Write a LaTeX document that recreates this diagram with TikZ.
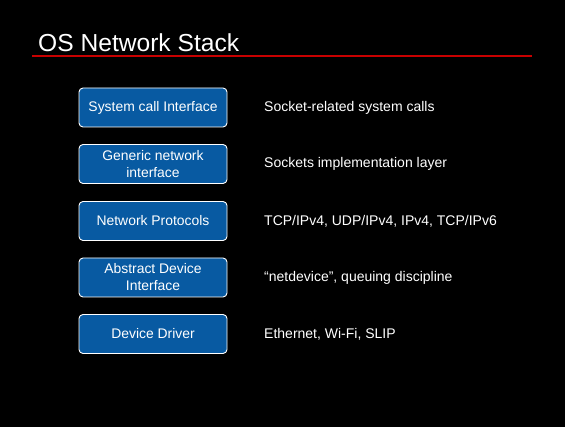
\documentclass[tikz,border=0pt]{standalone}
\usepackage{fontspec}
\setmainfont{Liberation Sans}
\definecolor{layerblue}{RGB}{8,90,162}
\definecolor{rulered}{RGB}{200,0,0}
\begin{document}
\begin{tikzpicture}[x=1pt,y=-1pt,
  layer/.style={draw=white, line width=0.9pt, fill=layerblue, rounded corners=4pt,
    minimum width=148pt, minimum height=39pt, inner sep=0pt, text=white,
    align=center, font=\fontsize{13.9}{17}\selectfont},
  note/.style={anchor=west, text=white, inner sep=0pt, font=\fontsize{14}{17}\selectfont}]
  % slide background
  \fill[black] (0,0) rectangle (565,427);
  \useasboundingbox (0,0) rectangle (565,427);
  % title and rule
  \node[anchor=base west, inner sep=0pt, text=white, font=\fontsize{24.6}{28}\selectfont] (title) at (38,52) {OS Network Stack};
  \coordinate (ruleL) at (32,56);
  \coordinate (ruleR) at (532,56);
  \draw[rulered, line width=1.6pt] (ruleL) -- (ruleR);
  % stack layers
  \node[layer] (sci) at (153,107.5) {System call Interface};
  \node[layer] (gni) at (153,164) {Generic network\\interface};
  \node[layer] (np)  at (153,221) {Network Protocols};
  \node[layer] (adi) at (153,277.5) {Abstract Device\\Interface};
  \node[layer] (dd)  at (153,334) {Device Driver};
  % descriptions
  \node[note] (d1) at (264,107.5) {Socket-related system calls};
  \node[note] (d2) at (264,164) {Sockets implementation layer};
  \node[note] (d3) at (264,221) {TCP/IPv4, UDP/IPv4, IPv4, TCP/IPv6};
  \node[note] (d4) at (264,277.5) {“netdevice”, queuing discipline};
  \node[note] (d5) at (264,334) {Ethernet, Wi-Fi, SLIP};
\end{tikzpicture}
\end{document}
